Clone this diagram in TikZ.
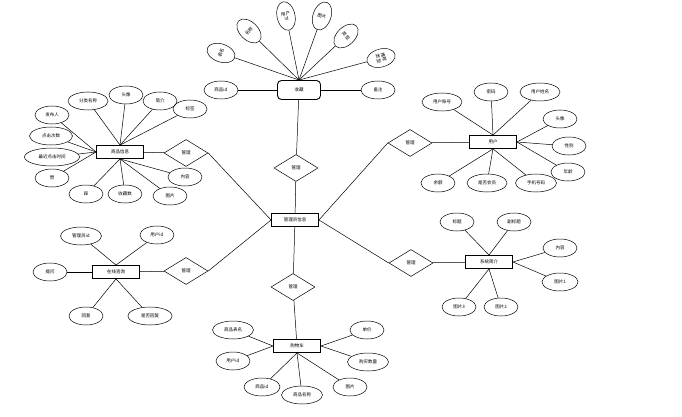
\documentclass[tikz,border=0pt]{standalone}
\usepackage{fontspec}
\newfontfamily\cjk{Noto Sans CJK SC}
\usetikzlibrary{shapes.geometric}

\begin{document}
\begin{tikzpicture}[x=1pt,y=-1pt,
  font=\cjk\fontsize{4.5}{5.5}\selectfont]
\tikzstyle{every node}+=[inner sep=0pt]
\tikzstyle{ent}=[draw,line width=0.9pt,minimum width=47pt,minimum height=13pt]
\tikzstyle{attr}=[draw,ellipse,line width=0.5pt,minimum width=34pt,minimum height=18pt]
\tikzstyle{petal}=[draw,ellipse,line width=0.5pt,minimum width=18pt,minimum height=29pt,align=center]
\tikzstyle{rel}=[draw,diamond,line width=0.5pt,minimum width=44pt,minimum height=27pt]
\tikzstyle{link}=[line width=0.5pt]
\useasboundingbox (0,0) rectangle (682,417);
% center
\node [ent] (gly) at (295,220) {管理员信息};
\node [rel] (r1) at (296,168) {管理};
\node [rel] (r2) at (293,287) {管理};
\node [rel] (r3) at (186,153) {管理};
\node [rel] (r4) at (186,271) {管理};
\node [rel] (r5) at (410,143) {管理};
\node [rel] (r6) at (411,263) {管理};
% shoucang
\node [ent,rounded corners=4pt,minimum width=43pt,minimum height=19pt] (sc) at (299,90) {收藏};
\node [petal,rotate=71] (sc1) at (221,53) {表名};
\node [petal,rotate=46] (sc2) at (249,31) {名称};
\node [petal,rotate=12] (sc3) at (286,16) {用户\\id};
\node [petal,rotate=-19] (sc4) at (322,16) {图片};
\node [petal,rotate=-46] (sc5) at (346,36) {类型};
\node [petal,rotate=-75] (sc6) at (381,58) {推荐\\类型};
\node [attr] (sc7) at (221,90) {商品id};
\node [attr] (sc8) at (378,90) {备注};
\draw [link] (sc.north) -- (sc1);
\draw [link] (sc.north) -- (sc2);
\draw [link] (sc.north) -- (sc3);
\draw [link] (sc.north) -- (sc4);
\draw [link] (sc.north) -- (sc5);
\draw [link] (sc.north) -- (sc6);
\draw [link] (sc) -- (sc7);
\draw [link] (sc) -- (sc8);
% shangpin
\node [ent] (sp) at (120,152) {商品信息};
\node [attr,minimum width=40pt] (sp1) at (88,101) {分类名称};
\node [attr] (sp2) at (126,95) {头像};
\node [attr] (sp3) at (160,101) {简介};
\node [attr] (sp4) at (190,109) {标签};
\node [attr] (sp5) at (52,115) {发布人};
\node [attr,minimum width=43pt] (sp6) at (51,136) {点击次数};
\node [attr,minimum width=55pt] (sp7) at (52,157) {最近点击时间};
\node [attr] (sp8) at (52,178) {赞};
\node [attr] (sp9) at (86,194) {踩};
\node [attr] (sp10) at (125,194) {收藏数};
\node [attr] (sp11) at (170,196) {图片};
\node [attr] (sp12) at (185,177) {内容};
\draw [link] (sp.north) -- (sp1);
\draw [link] (sp.north) -- (sp2);
\draw [link] (sp.north) -- (sp3);
\draw [link] (sp.north) -- (sp4);
\draw [link] (sp.west) -- (sp5);
\draw [link] (sp.west) -- (sp6);
\draw [link] (sp.west) -- (sp7);
\draw [link] (sp.west) -- (sp8);
\draw [link] (sp.south) -- (sp9);
\draw [link] (sp.south) -- (sp10);
\draw [link] (sp.south) -- (sp11);
\draw [link] (sp.south) -- (sp12);
% yonghu
\node [ent] (yh) at (493,142) {用户};
\node [attr,minimum width=40pt] (yh1) at (442,102) {用户账号};
\node [attr] (yh2) at (491,92) {密码};
\node [attr,minimum width=40pt] (yh3) at (540,92) {用户姓名};
\node [attr] (yh4) at (560,119) {头像};
\node [attr] (yh5) at (569,146) {性别};
\node [attr] (yh6) at (568,172) {年龄};
\node [attr,minimum width=41pt] (yh7) at (536,183) {手机号码};
\node [attr,minimum width=40pt] (yh8) at (487,183) {是否会员};
\node [attr] (yh9) at (438,183) {余额};
\draw [link] (yh.north) -- (yh1);
\draw [link] (yh.north) -- (yh2);
\draw [link] (yh.north) -- (yh3);
\draw [link] (yh.east) -- (yh4);
\draw [link] (yh.east) -- (yh5);
\draw [link] (yh.east) -- (yh6);
\draw [link] (yh.south) -- (yh7);
\draw [link] (yh.south) -- (yh8);
\draw [link] (yh.south) -- (yh9);
% zixun
\node [ent] (zx) at (116,272) {在线咨询};
\node [attr,minimum width=41pt] (zx1) at (81,236) {管理员id};
\node [attr] (zx2) at (157,235) {用户id};
\node [attr] (zx3) at (50,272) {提问};
\node [attr] (zx4) at (86,316) {回复};
\node [attr,minimum width=44pt] (zx5) at (150,316) {是否回复};
\draw [link] (zx.north) -- (zx1);
\draw [link] (zx.north) -- (zx2);
\draw [link] (zx) -- (zx3);
\draw [link] (zx.south) -- (zx4);
\draw [link] (zx.south) -- (zx5);
% jianjie
\node [ent] (jj) at (489,262) {系统简介};
\node [attr] (jj1) at (457,222) {标题};
\node [attr] (jj2) at (514,222) {副标题};
\node [attr] (jj3) at (560,248) {内容};
\node [attr,minimum width=36pt] (jj4) at (560,282) {图片1};
\node [attr] (jj5) at (459,307) {图片3};
\node [attr] (jj6) at (501,307) {图片2};
\draw [link] (jj.north) -- (jj1);
\draw [link] (jj.north) -- (jj2);
\draw [link] (jj.east) -- (jj3);
\draw [link] (jj.east) -- (jj4);
\draw [link] (jj.south) -- (jj5);
\draw [link] (jj.south) -- (jj6);
% gouwuche
\node [ent] (gwc) at (297,346) {购物车};
\node [attr,minimum width=41pt] (gwc1) at (233,330) {商品表名};
\node [attr] (gwc2) at (233,361) {用户id};
\node [attr,minimum width=36pt] (gwc3) at (262,387) {商品id};
\node [attr,minimum width=41pt] (gwc4) at (302,395) {商品名称};
\node [attr] (gwc5) at (350,387) {图片};
\node [attr,minimum width=41pt] (gwc6) at (368,362) {购买数量};
\node [attr] (gwc7) at (367,330) {单价};
\draw [link] (gwc.west) -- (gwc1);
\draw [link] (gwc.west) -- (gwc2);
\draw [link] (gwc.south) -- (gwc3);
\draw [link] (gwc.south) -- (gwc4);
\draw [link] (gwc.south) -- (gwc5);
\draw [link] (gwc.east) -- (gwc6);
\draw [link] (gwc.east) -- (gwc7);
% relations
\draw [link] (sc) -- (r1);
\draw [link] (r1) -- (gly);
\draw [link] (gly) -- (r2);
\draw [link] (r2) -- (gwc);
\draw [link] (sp) -- (r3);
\draw [link] (r3.east) -- (gly.west);
\draw [link] (zx) -- (r4);
\draw [link] (r4.east) -- (gly.west);
\draw [link] (yh) -- (r5);
\draw [link] (r5.west) -- (gly.east);
\draw [link] (jj) -- (r6);
\draw [link] (r6.west) -- (gly.east);
\end{tikzpicture}
\end{document}
